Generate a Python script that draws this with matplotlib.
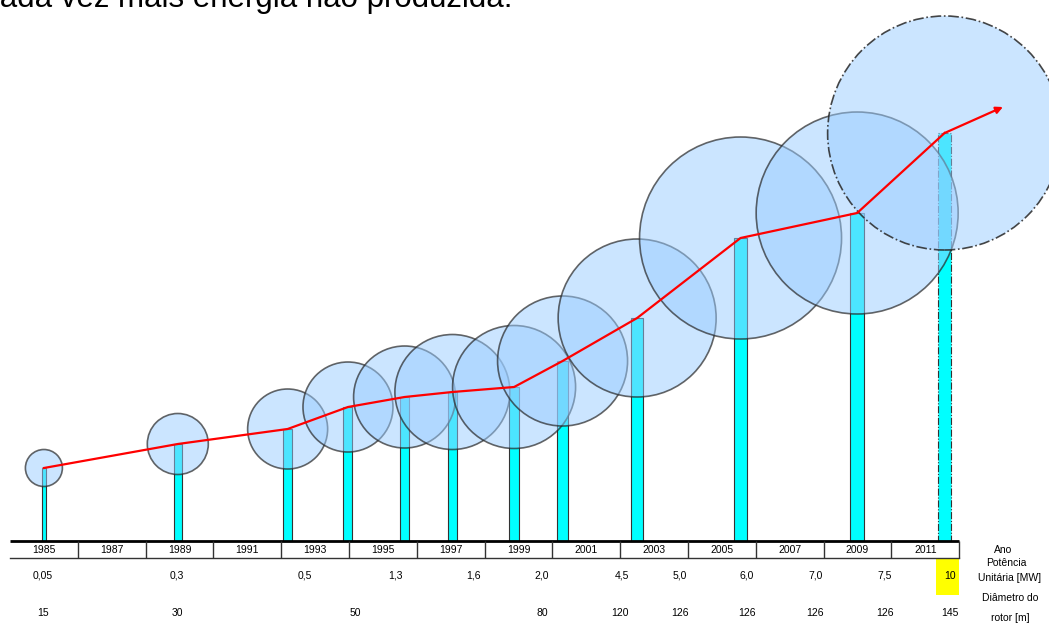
import numpy as np
import matplotlib.pyplot as plt
from matplotlib.patches import Ellipse, Rectangle

plt.rcParams["font.family"] = ["Liberation Sans", "DejaVu Sans"]

# towers / rotors (x in years, heights in drawing units above the ground line)
tower_year = [1985.0, 1988.95, 1992.19, 1993.97, 1995.64, 1997.05, 1998.87,
              2000.30, 2002.50, 2005.55, 2008.99, 2011.57]
hub_height = [73, 97, 112, 134, 144, 149, 154, 180, 223, 303, 328, 408]
tower_width = [4, 8, 9, 9, 9, 9, 10, 11, 12, 13, 14, 13]
rotor_radius = [18.5, 30.5, 40, 45, 51, 57.5, 61.5, 65, 79, 101, 101, 117]
arrow_tip = (2013.29, 434)

# table
ano = list(range(1985, 2012, 2))
potencia = ["0,05", "0,3", "0,5", "1,3", "1,6", "2,0", "4,5", "5,0", "6,0",
            "7,0", "7,5", "10"]
potencia_x = [1984.97, 1988.93, 1992.70, 1995.36, 1997.66, 1999.69, 2002.05,
              2003.76, 2005.74, 2007.75, 2009.81, 2011.73]
diametro = ["15", "30", "50", "80", "120", "126", "126", "126", "126", "145"]
diametro_x = [1984.97, 1988.93, 1994.18, 1999.69, 2001.99, 2003.76,
              2005.74, 2007.75, 2009.81, 2011.73]

PX_YEAR = 33.9  # pixels per year

fig = plt.figure(figsize=(10.49, 6.26), dpi=100)
ax = fig.add_axes([0, 0, 1, 1])
ax.set_xlim(1984 - 10 / PX_YEAR, 1984 + 1039 / PX_YEAR)
ax.set_ylim(-85, 541)
ax.axis("off")

# towers
bw = [w / PX_YEAR for w in tower_width]
bars = ax.bar(tower_year, hub_height, width=bw, color="#00FFFF",
              edgecolor="#333333", linewidth=0.8, zorder=2)
bars[-1].set_linestyle("-.")

# rotors
for i, (x, h, r) in enumerate(zip(tower_year, hub_height, rotor_radius)):
    last = i == len(tower_year) - 1
    ax.add_patch(Ellipse((x, h), 2 * r / PX_YEAR, 2 * r,
                         facecolor=(0.6, 0.8, 1.0, 0.5),
                         edgecolor=(0.15, 0.15, 0.15, 0.85 if last else 0.7),
                         linewidth=1.2, linestyle="-." if last else "-",
                         zorder=3))

# red trend line + arrow
ax.plot(tower_year, hub_height, color="red", lw=1.6, zorder=4)
ax.annotate("", xy=arrow_tip, xytext=(tower_year[-1], hub_height[-1]),
            arrowprops=dict(arrowstyle="-|>", color="red", lw=1.6,
                            mutation_scale=10, shrinkA=0, shrinkB=0),
            zorder=4)

# table
ax.plot([1984, 2012], [0, 0], color="black", lw=2, zorder=5,
        solid_capstyle="butt")
ax.plot([1984, 2012], [-17, -17], color="#333333", lw=1, zorder=5)
ax.vlines(np.arange(1986, 2013, 2), -17, 0, color="#333333", lw=1, zorder=5)
for a in ano:
    ax.text(a, -9, str(a), ha="center", va="center", fontsize=7.5)

ax.add_patch(Rectangle((2011.32, -54), 0.67, 37, facecolor="#FFFF00",
                       edgecolor="none", zorder=1))
for x, t in zip(potencia_x, potencia):
    ax.text(x, -35, t, ha="center", va="center", fontsize=7.5)
for x, t in zip(diametro_x, diametro):
    ax.text(x, -72, t, ha="center", va="center", fontsize=7.5)

lab_x = 2013.5
ax.text(lab_x - 0.2, -9, "Ano", ha="center", va="center", fontsize=7.5)
ax.text(lab_x - 0.1, -22, "Potência", ha="center", va="center", fontsize=7.5)
ax.text(lab_x, -37, "Unitária [MW]", ha="center", va="center", fontsize=7.5)
ax.text(lab_x, -57, "Diâmetro do", ha="center", va="center", fontsize=7.5)
ax.text(lab_x, -77, "rotor [m]", ha="center", va="center", fontsize=7.5)

# cut-off caption at the top
fig.text(512 / 1049, 1 - 6.5 / 626, "cada vez mais energia não produzida.",
         ha="right", va="baseline", fontsize=22.5)

fig.savefig("out.png", dpi=100)
